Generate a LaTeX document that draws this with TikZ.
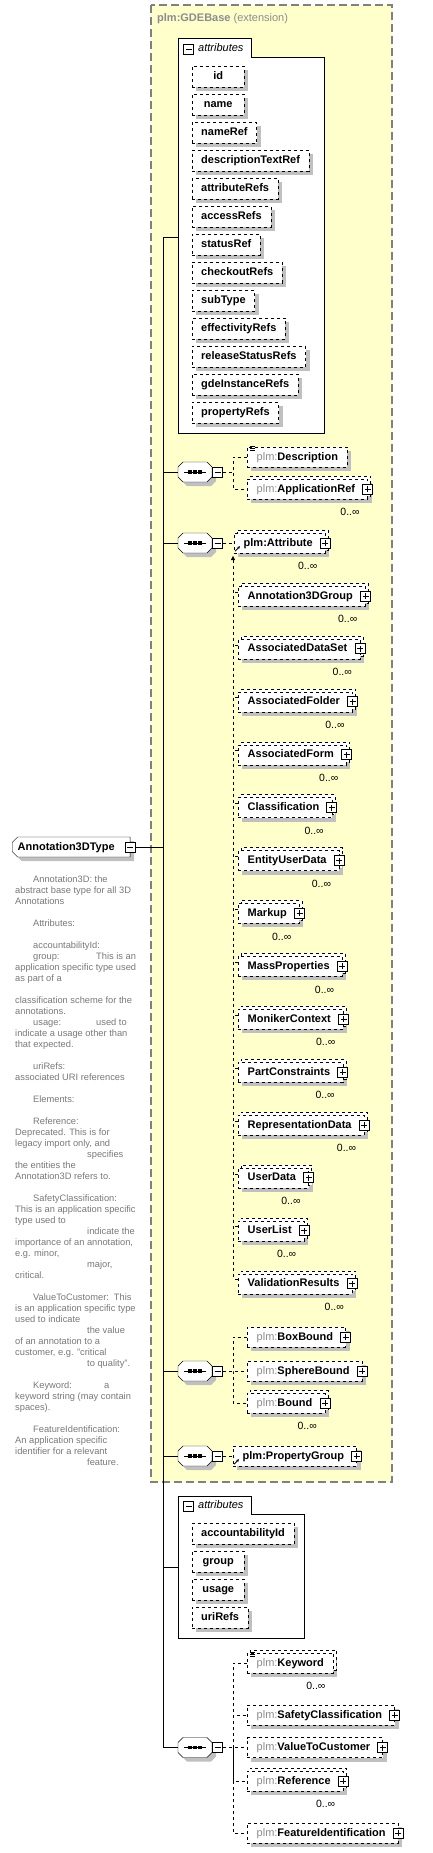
\documentclass[tikz,border=0pt]{standalone}
\usepackage{fontspec}
\setmainfont{Liberation Sans}
\usetikzlibrary{arrows.meta,positioning,shapes.misc,shadows}

\definecolor{extfill}{RGB}{255,255,204}
\definecolor{extline}{RGB}{128,128,128}
\definecolor{shadowgray}{RGB}{192,192,192}
\definecolor{nsgray}{RGB}{140,140,140}
\definecolor{docgray}{RGB}{120,120,120}

\newcommand{\nspfx}{\textcolor{nsgray}{\mdseries plm:}}
% octagon of a sequence compositor round the named node
\newcommand{\seqglyph}[1]{%
  \fill[shadowgray, shift={(#1.center)}, shift={(4,4)}]
    (-17,-5) -- (-12,-10) -- (12,-10) -- (17,-5) -- (17,5) -- (12,10) -- (-12,10) -- (-17,5) -- cycle;
  \draw[fill=white, shift={(#1.center)}]
    (-17,-5) -- (-12,-10) -- (12,-10) -- (17,-5) -- (17,5) -- (12,10) -- (-12,10) -- (-17,5) -- cycle;
  \draw[line width=1pt] ([xshift=-11pt]#1.center) -- ([xshift=11pt]#1.center);
  \foreach \d in {-5,0,5}
    \fill ([xshift=\d pt]#1.center) +(-1.6,-1.6) rectangle +(1.6,1.6);
}

\tikzset{
  lbl/.style={font=\fontsize{11}{13}\selectfont\bfseries, text height=8pt, text depth=2pt},
  shade4/.style={general shadow={fill=shadowgray, shadow xshift=4pt, shadow yshift=-4pt}},
  attritem/.style={lbl, draw, dashed, fill=white, shade4, anchor=north west,
    inner xsep=9pt, inner ysep=0pt, minimum width=52pt, minimum height=21pt},
  elem/.style={lbl, draw, dashed, fill=white, shade4, anchor=west,
    inner xsep=9.5pt, inner ysep=0pt, minimum height=20pt},
  kids/.style={elem, execute at end node={\hspace*{3pt}}},
  multi/.style={general shadow={draw, dashed, fill=white, shadow xshift=3pt, shadow yshift=3pt}},
  card/.style={font=\fontsize{10.5}{12}\selectfont, inner sep=0pt, anchor=north east},
  plusicon/.style={draw, fill=white, line width=1pt, minimum size=10pt, inner sep=0pt,
    path picture={\draw[line width=0.9pt]
      ([xshift=-3pt]path picture bounding box.center) -- ([xshift=3pt]path picture bounding box.center)
      ([yshift=-3pt]path picture bounding box.center) -- ([yshift=3pt]path picture bounding box.center);}},
  minusicon/.style={draw, fill=white, line width=1pt, minimum size=10pt, inner sep=0pt,
    path picture={\draw[line width=0.9pt]
      ([xshift=-3pt]path picture bounding box.center) -- ([xshift=3pt]path picture bounding box.center);}},
  seqbox/.style={minimum width=34pt, minimum height=20pt, inner sep=0pt},
  conn/.style={dashed},
  refarrow/.style={line width=0.9pt, -{Stealth[length=3pt,width=3pt]}},
  tabtitle/.style={font=\fontsize{11}{13}\selectfont\itshape, anchor=west, inner sep=0pt},
}

\begin{document}
\begin{tikzpicture}[x=1pt,y=-1pt]
\useasboundingbox (0,0) rectangle (433,1853);

% extension frame
\draw[extline, dash pattern=on 8pt off 4pt, line width=1.2pt, fill=extfill] (151,5) rectangle (392,1482);
\node[anchor=west, inner sep=0pt, text=nsgray, font=\fontsize{11}{13}\selectfont] (extTitle) at (157,19)
  {\textbf{plm:GDEBase} (extension)};

% inherited attributes
\draw[fill=white] (178,433) -- (178,38) -- (251,38) -- (251,57) -- (324,57) -- (324,433) -- cycle;
\node[minusicon] (attrsAicon) at (188.5,49) {};
\node[tabtitle] at (198,48) {attributes};
\coordinate (attrsA) at (178,237);
\foreach \an [count=\i from 0] in {id,name,nameRef,descriptionTextRef,attributeRefs,accessRefs,statusRef,checkoutRefs,subType,effectivityRefs,releaseStatusRefs,gdeInstanceRefs,propertyRefs}
  \node[attritem] (ga\i) at (192,66+28*\i) {\an};

% the type itself
\node[lbl, draw, fill=white, shade4, chamfered rectangle, chamfered rectangle corners={north west,south west},
  chamfered rectangle xsep=2.5pt, chamfered rectangle ysep=3pt, anchor=west, inner xsep=3pt, inner ysep=0pt,
  minimum height=20pt, execute at end node={\hspace*{10pt}}] (a3d) at (12,847) {Annotation3DType};
\node[minusicon] (a3dicon) at (a3d.east) {};
\node[anchor=north west, inner sep=0pt, align=left, text=docgray, font=\fontsize{9.3}{11}\selectfont] (a3ddoc) at (15,876) {%
\hspace*{18pt}Annotation3D: the\\
abstract base type for all 3D\\
Annotations\\
\mbox{}\\
\hspace*{18pt}Attributes:\\
\mbox{}\\
\hspace*{18pt}accountabilityId:\\
\hspace*{18pt}\makebox[63pt][l]{group:}This is an\\
application specific type used\\
as part of a\\
\mbox{}\\
classification scheme for the\\
annotations.\\
\hspace*{18pt}\makebox[63pt][l]{usage:}used to\\
indicate a usage other than\\
that expected.\\
\mbox{}\\
\hspace*{18pt}uriRefs:\\
associated URI references\\
\mbox{}\\
\hspace*{18pt}Elements:\\
\mbox{}\\
\hspace*{18pt}Reference:\\
Deprecated. This is for\\
legacy import only, and\\
\hspace*{72pt}specifies\\
the entities the\\
Annotation3D refers to.\\
\mbox{}\\
\hspace*{18pt}SafetyClassification:\\
This is an application specific\\
type used to\\
\hspace*{72pt}indicate the\\
importance of an annotation,\\
e.g. minor,\\
\hspace*{72pt}major,\\
critical.\\
\mbox{}\\
\hspace*{18pt}ValueToCustomer:\hspace{5pt}This\\
is an application specific type\\
used to indicate\\
\hspace*{72pt}the value\\
of an annotation to a\\
customer, e.g. "critical\\
\hspace*{72pt}to quality".\\
\mbox{}\\
\hspace*{18pt}\makebox[71pt][l]{Keyword:}a\\
keyword string (may contain\\
spaces).\\
\mbox{}\\
\hspace*{18pt}FeatureIdentification:\\
An application specific\\
identifier for a relevant\\
\hspace*{72pt}feature.};

% trunk
\coordinate (trunkTop) at (163,237);
\coordinate (trunkBot) at (163,1747.5);
\draw (trunkTop) -- (trunkBot);
\draw (a3dicon.east) -- (a3dicon.east -| trunkTop);
\draw (trunkTop) -- (attrsA);

% sequence 1
\node[seqbox] (seqA) at (195,472) {};
\draw (trunkTop |- seqA) -- (seqA.west);
\seqglyph{seqA}
\node[minusicon, anchor=west] (seqAm) at (seqA.east) {};
\coordinate (jA) at (233,472);
\node[elem] (desc) at (247,457) {\nspfx Description};
\foreach \k in {-1,1,3} \draw[line width=0.6pt] ([shift={(3,\k)}]desc.north west) -- ++(5,0);
\node[kids, multi] (appRef) at (247,489) {\nspfx ApplicationRef};
\node[plusicon] at (appRef.east) {};
\node[card] at ([xshift=-8pt,yshift=-9pt]appRef.south east) {0..∞};
\draw[conn] (seqAm.east) -- (jA);
\draw[conn] (desc.west) -| (jA) |- (appRef.west);

% sequence 2 with the substitution group
\node[seqbox] (seqB) at (195,543) {};
\draw (trunkTop |- seqB) -- (seqB.west);
\seqglyph{seqB}
\node[minusicon, anchor=west] (seqBm) at (seqB.east) {};
\node[kids, multi] (attrHead) at (234,543) {plm:Attribute};
\node[plusicon] at (attrHead.east) {};
\node[card] at ([xshift=-8pt,yshift=-9pt]attrHead.south east) {0..∞};
\draw[refarrow] ([shift={(1,-2)}]attrHead.south west) -- ++(5,-5);
\draw[conn] (seqBm.east) -- (attrHead.west);
\coordinate (subTop) at (233,556);
\foreach \nm [count=\i from 0] in {Annotation3DGroup,AssociatedDataSet,AssociatedFolder,AssociatedForm,Classification,EntityUserData,Markup,MassProperties,MonikerContext,PartConstraints,RepresentationData,UserData,UserList,ValidationResults}{
  \node[kids, multi] (m\i) at (238,596+52.9*\i) {\nm};
  \node[plusicon] at (m\i.east) {};
  \node[card] at ([xshift=-8pt,yshift=-9pt]m\i.south east) {0..∞};
  \draw[conn] ([yshift=-6pt]m\i.north west) -- ++(-5,0);
}
\path ([yshift=-6pt]m13.north west) coordinate (lastTick);
\draw[conn, {Triangle[length=4pt,width=4pt]}-] (subTop) -- (subTop |- lastTick);

% sequence 3
\node[seqbox] (seqC) at (195,1371) {};
\draw (trunkTop |- seqC) -- (seqC.west);
\seqglyph{seqC}
\node[minusicon, anchor=west] (seqCm) at (seqC.east) {};
\coordinate (jC) at (233,1371);
\node[kids] (boxB) at (247,1337) {\nspfx BoxBound};
\node[plusicon] at (boxB.east) {};
\node[kids] (sphB) at (247,1371) {\nspfx SphereBound};
\node[plusicon] at (sphB.east) {};
\node[kids, multi] (bnd) at (247,1403) {\nspfx Bound};
\node[plusicon] at (bnd.east) {};
\node[card] at ([xshift=-8pt,yshift=-9pt]bnd.south east) {0..∞};
\draw[conn] (seqCm.east) -- (sphB.west);
\draw[conn] (boxB.west) -| (jC) |- (bnd.west);

% sequence 4
\node[seqbox] (seqD) at (195,1456) {};
\draw (trunkTop |- seqD) -- (seqD.west);
\seqglyph{seqD}
\node[minusicon, anchor=west] (seqDm) at (seqD.east) {};
\node[kids] (propGrp) at (233,1456) {plm:PropertyGroup};
\node[plusicon] at (propGrp.east) {};
\draw[refarrow] ([shift={(1,-2)}]propGrp.south west) -- ++(5,-5);
\draw[conn] (seqDm.east) -- (propGrp.west);

% own attributes
\draw[fill=white] (178,1638) -- (178,1496) -- (251,1496) -- (251,1514) -- (304,1514) -- (304,1638) -- cycle;
\node[minusicon] (attrsBicon) at (188.5,1506) {};
\node[tabtitle] at (198,1505) {attributes};
\coordinate (attrsB) at (178,1567);
\draw (trunkTop |- attrsB) -- (attrsB);
\foreach \an [count=\i from 0] in {accountabilityId,group,usage,uriRefs}
  \node[attritem] (oa\i) at (192,1523+28*\i) {\an};

% sequence 5
\node[seqbox] (seqE) at (195,1747.5) {};
\draw (trunkBot) -- (seqE.west);
\seqglyph{seqE}
\node[minusicon, anchor=west] (seqEm) at (seqE.east) {};
\coordinate (jE) at (233,1747.5);
\node[elem, multi] (kwd) at (247,1663) {\nspfx Keyword};
\foreach \k in {-1,1,3} \draw[line width=0.6pt] ([shift={(3,\k)}]kwd.north west) -- ++(5,0);
\node[card] at ([xshift=-8pt,yshift=-9pt]kwd.south east) {0..∞};
\node[kids] (safety) at (247,1715) {\nspfx SafetyClassification};
\node[plusicon] at (safety.east) {};
\node[kids] (value) at (247,1747.5) {\nspfx ValueToCustomer};
\node[plusicon] at (value.east) {};
\node[kids, multi] (refer) at (247,1781) {\nspfx Reference};
\node[plusicon] at (refer.east) {};
\node[card] at ([xshift=-8pt,yshift=-9pt]refer.south east) {0..∞};
\node[kids] (featId) at (247,1833) {\nspfx FeatureIdentification};
\node[plusicon] at (featId.east) {};
\draw[conn] (seqEm.east) -- (value.west);
\draw[conn] (kwd.west) -| (jE) |- (featId.west);
\draw[conn] (jE) |- (safety.west);
\draw[conn] (jE) |- (refer.west);
\end{tikzpicture}
\end{document}
